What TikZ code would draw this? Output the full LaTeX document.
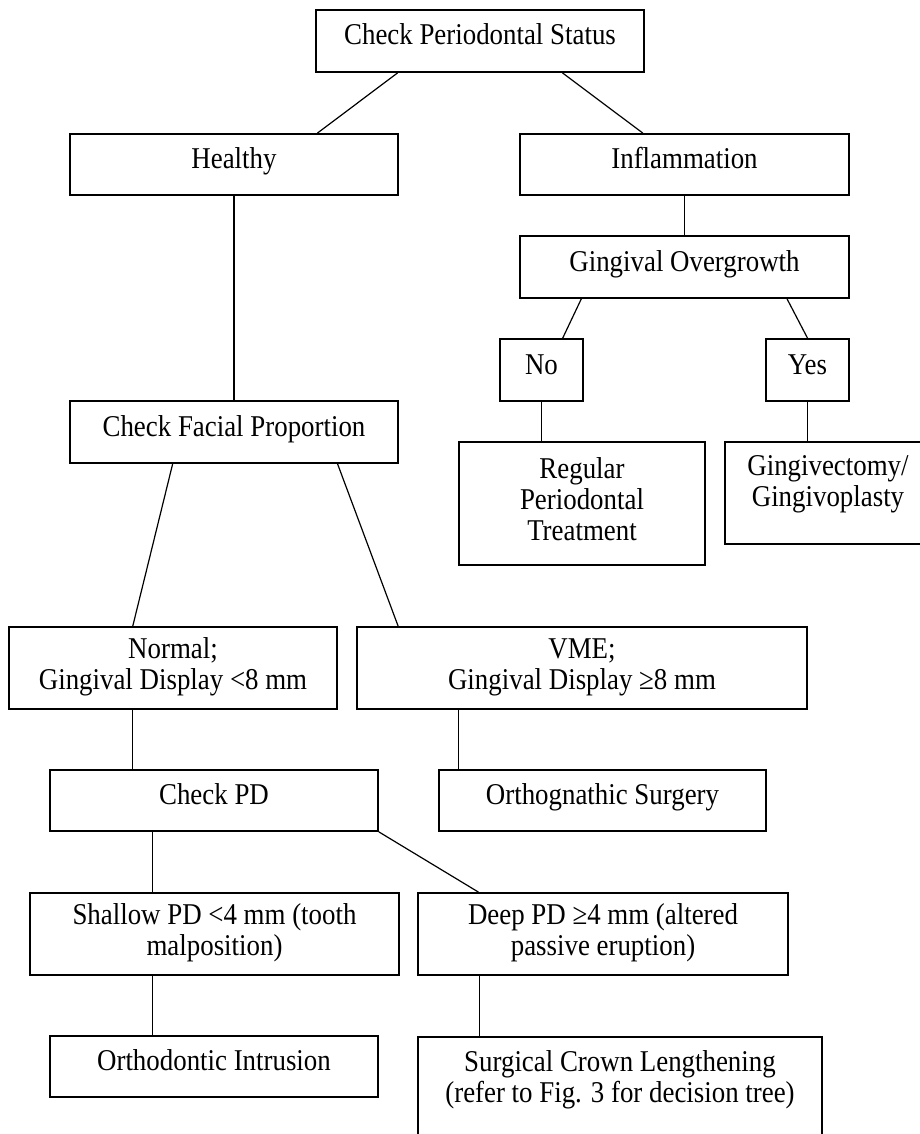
\documentclass[tikz,border=0pt]{standalone}
\usepackage{fontspec}
\setmainfont{Liberation Serif}[FakeStretch=0.89]
\usetikzlibrary{calc}
\newcommand{\mlines}[1]{\begin{tabular}[t]{@{}c@{}}#1\end{tabular}}
\begin{document}
\begin{tikzpicture}[x=1pt,y=-1pt,
  box/.style={draw, line width=1.8pt, inner sep=0pt, align=center, font=\fontsize{30.2}{31}\selectfont},
  one/.style={text height=19pt, text depth=11pt},
  conn/.style={line width=1.2pt}]
\useasboundingbox (0,0) rectangle (920,1134);
\clip (0,0) rectangle (920,1134);
% boxes
\node[box,one,minimum width=328pt,minimum height=62pt] (top) at (480,41) {Check Periodontal Status};
\node[box,one,minimum width=328pt,minimum height=61pt] (healthy) at (234,164.5) {Healthy};
\node[box,one,minimum width=329pt,minimum height=61pt] (inflam) at (684.5,164.5) {Inflammation};
\node[box,one,minimum width=329pt,minimum height=62pt] (go) at (684.5,267) {Gingival Overgrowth};
\node[box,one,minimum width=83pt,minimum height=62pt] (no) at (541.5,370) {No};
\node[box,one,minimum width=83pt,minimum height=62pt] (yes) at (807.5,370) {Yes};
\node[box,minimum width=246pt,minimum height=123pt] (regular) at (582,503.5) {\mlines{Regular\\Periodontal\\Treatment}};
\node[box,text depth=57.7pt,minimum width=206pt,minimum height=102pt] (ging) at (828,493) {\mlines{Gingivectomy/\\Gingivoplasty}};
\node[box,one,minimum width=328pt,minimum height=62pt] (cfp) at (234,432) {Check Facial Proportion};
\node[box,minimum width=328pt,minimum height=82pt] (normal) at (173,668) {\mlines{Normal;\\Gingival Display <8 mm}};
\node[box,minimum width=450pt,minimum height=82pt] (vme) at (582,668) {\mlines{VME;\\Gingival Display ≥8 mm}};
\node[box,one,minimum width=328pt,minimum height=61pt] (checkpd) at (214,800.5) {Check PD};
\node[box,one,minimum width=327pt,minimum height=61pt] (ortho) at (602.5,800.5) {Orthognathic Surgery};
\node[box,minimum width=369pt,minimum height=82pt] (shallow) at (214.5,934) {\mlines{Shallow PD <4 mm (tooth\\malposition)}};
\node[box,minimum width=370pt,minimum height=82pt] (deep) at (603,934) {\mlines{Deep PD ≥4 mm (altered\\passive eruption)}};
\node[box,one,minimum width=328pt,minimum height=61pt] (intr) at (214,1066.5) {Orthodontic Intrusion};
\node[box,anchor=north,inner ysep=0pt,text height=35pt,text depth=110pt,minimum width=404pt] (scl) at (620,1036) {\mlines{Surgical Crown Lengthening\\(refer to Fig. 3 for decision tree)}};
% helper coordinates
\coordinate (nrm) at ($(normal.south west)!0.378!(normal.south east)$);
\coordinate (vmb) at ($(vme.south west)!0.227!(vme.south east)$);
\coordinate (cpd) at ($(checkpd.south west)!0.314!(checkpd.south east)$);
\coordinate (shb) at ($(shallow.south west)!0.333!(shallow.south east)$);
\coordinate (dpb) at ($(deep.south west)!0.168!(deep.south east)$);
% connectors
\draw[conn] ($(top.south west)!0.25!(top.south east)$) -- ($(healthy.north west)!0.753!(healthy.north east)$);
\draw[conn] ($(top.south west)!0.75!(top.south east)$) -- ($(inflam.north west)!0.374!(inflam.north east)$);
\draw[conn] (inflam.south) -- (go.north);
\draw[conn] ($(go.south west)!0.188!(go.south east)$) -- ($(no.north west)!0.75!(no.north east)$);
\draw[conn] ($(go.south west)!0.81!(go.south east)$) -- (yes.north);
\draw[conn] (no.south) -- (no.south |- regular.north);
\draw[conn] (yes.south) -- (yes.south |- ging.north);
\draw[conn] (healthy.south) -- (cfp.north);
\draw[conn] ($(cfp.south west)!0.314!(cfp.south east)$) -- ($(normal.north west)!0.378!(normal.north east)$);
\draw[conn] ($(cfp.south west)!0.814!(cfp.south east)$) -- ($(vme.north west)!0.093!(vme.north east)$);
\draw[conn] (nrm) -- (nrm |- checkpd.north);
\draw[conn] (vmb) -- (vmb |- ortho.north);
\draw[conn] (cpd) -- (cpd |- shallow.north);
\draw[conn] (checkpd.south east) -- ($(deep.north west)!0.165!(deep.north east)$);
\draw[conn] (shb) -- (shb |- intr.north);
\draw[conn] (dpb) -- (dpb |- scl.north);
\end{tikzpicture}
\end{document}
